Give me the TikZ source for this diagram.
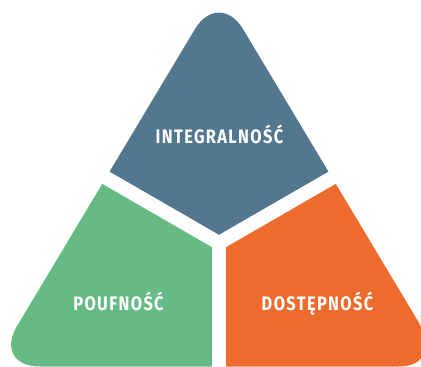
\documentclass[tikz,border=0pt]{standalone}
\usepackage{fontspec}
\newfontfamily\labelfont{Fira Sans}[FakeStretch=0.84,LetterSpace=7.0]

\definecolor{integblue}{HTML}{52778F}
\definecolor{poufgreen}{HTML}{66BB85}
\definecolor{dostorange}{HTML}{ED6C2D}

\tikzset{
	label text/.style={text=white,inner sep=0pt,anchor=base,
		font=\labelfont\bfseries\fontsize{19.5}{19.5}\selectfont},
	gap/.style={white,line width=14pt}
}

\begin{document}
\begin{tikzpicture}[x=1pt,y=-1pt]
	%canvas
	\useasboundingbox (0,0) rectangle (421,367);
	\clip (0,0) rectangle (421,367);

	%corners and hub
	\coordinate (apex) at (219,-11);
	\coordinate (rightcorner) at (445.2,366.5);
	\coordinate (leftcorner) at (-7.2,366.5);
	\coordinate (hub) at (219,243); %centre of the Y
	\coordinate (leftend) at (-41,93);
	\coordinate (rightend) at (479,93);
	\coordinate (bottomend) at (219,400);

	%regions inside the rounded triangle
	\begin{scope}
		\clip[rounded corners=47pt] (apex) -- (rightcorner) -- (leftcorner) -- cycle;
		\fill[integblue] (hub) -- (leftend) -- (-41,-20) -- (479,-20) -- (rightend) -- cycle; %top
		\fill[poufgreen] (hub) -- (leftend) -- (-41,400) -- (bottomend) -- cycle; %left
		\fill[dostorange] (hub) -- (rightend) -- (479,400) -- (bottomend) -- cycle; %right
	\end{scope}

	%white Y gap
	\draw[gap] (leftend) -- (hub) -- (rightend);
	\draw[gap] (hub) -- (bottomend);

	%labels
	\node[label text] (integ) at (219.5,143.5) {INTEGRALNOŚĆ};
	\node[label text] (pouf) at (118.5,310.5) {POUFNOŚĆ};
	\node[label text] (dost) at (317.5,310.5) {DOSTĘPNOŚĆ};
\end{tikzpicture}
\end{document}
